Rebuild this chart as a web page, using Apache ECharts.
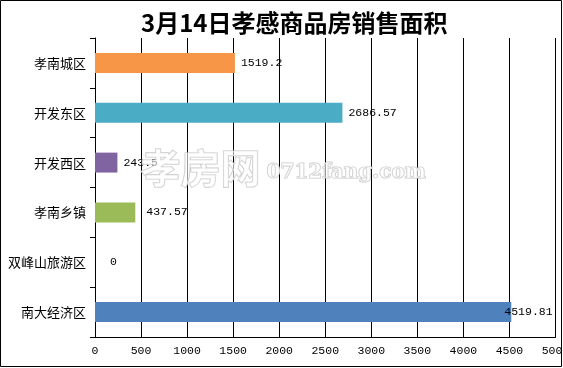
<!DOCTYPE html>
<html><head><meta charset="utf-8">
<script src="https://cdn.jsdelivr.net/npm/echarts@6/dist/echarts.min.js"></script>
<style>html,body{margin:0;padding:0;background:#fff}#c{width:563px;height:368px}</style>
</head><body><div id="c"></div>
<script>
const titleText = '3月14日孝感商品房销售面积';
const categories = ['孝南城区', '开发东区', '开发西区', '孝南乡镇', '双峰山旅游区', '南大经济区'];
const values = [1519.2, 2686.57, 243.5, 437.57, 0, 4519.81];
const barColors = ['#F79646', '#4BACC6', '#8064A2', '#9BBB59', '#C0504D', '#4F81BD'];
const labelOffsets = [[0,0],[0,0],[0,0],[5,0],[9,0],[-13,0]];
const xMin = 0, xMax = 5000, xStep = 500;

const chart = echarts.init(document.getElementById('c'), null, {renderer: 'canvas'});
const monoFont = '"Liberation Mono", "DejaVu Sans Mono", monospace';
const cjkFont = '"Noto Sans CJK SC", sans-serif';
chart.setOption({
  animation: false,
  title: {
    text: titleText, left: 136, top: 6,
    textStyle: {fontSize: 24, fontWeight: 'bold', color: '#000', fontFamily: cjkFont}
  },
  grid: {left: 95, right: 7.5, top: 38, bottom: 31, containLabel: false, outerBoundsMode: 'none'},
  xAxis: {
    type: 'value', min: xMin, max: xMax, interval: xStep,
    axisLine: {show: true, lineStyle: {color: '#000', width: 1}},
    axisTick: {show: false},
    splitLine: {show: true, lineStyle: {color: '#000', width: 1}},
    axisLabel: {color: '#000', fontSize: 11.5, fontFamily: monoFont, margin: 8,
                formatter: v => String(v)}
  },
  yAxis: {
    type: 'category', data: categories, inverse: true,
    axisLine: {show: true, lineStyle: {color: '#000', width: 1}},
    axisTick: {show: true, length: 5, lineStyle: {color: '#000'}},
    axisLabel: {color: '#000', fontSize: 13, fontFamily: cjkFont, margin: 9}
  },
  series: [{
    type: 'bar',
    barCategoryGap: '60%',
    data: values.map((v, i) => ({
      value: v,
      itemStyle: {color: barColors[i]},
      label: {offset: labelOffsets[i]}
    })),
    label: {
      show: true, position: 'right', distance: 6,
      color: '#000', fontSize: 11.5, fontFamily: monoFont,
      formatter: p => String(p.value)
    }
  }],
  graphic: [
    {type: 'rect', shape: {x: 0.5, y: 0.5, width: 561, height: 366},
     style: {fill: 'none', stroke: '#000', lineWidth: 1}, z: 100},
    {type: 'text', left: 140, top: 147, z: 50,
     style: {text: '孝房网', fontSize: 40, fontWeight: 'bold', fontFamily: cjkFont,
             fill: 'rgba(255,255,255,0.6)', stroke: '#c8c8c8', lineWidth: 1.2}},
    {type: 'text', left: 266, top: 162, z: 50,
     style: {text: '0712fang.com', fontSize: 20, fontWeight: 'bold', fontFamily: '"DejaVu Serif", serif',
             fill: 'rgba(255,255,255,0.6)', stroke: '#c8c8c8', lineWidth: 1.2}}
  ]
});
</script></body></html>
